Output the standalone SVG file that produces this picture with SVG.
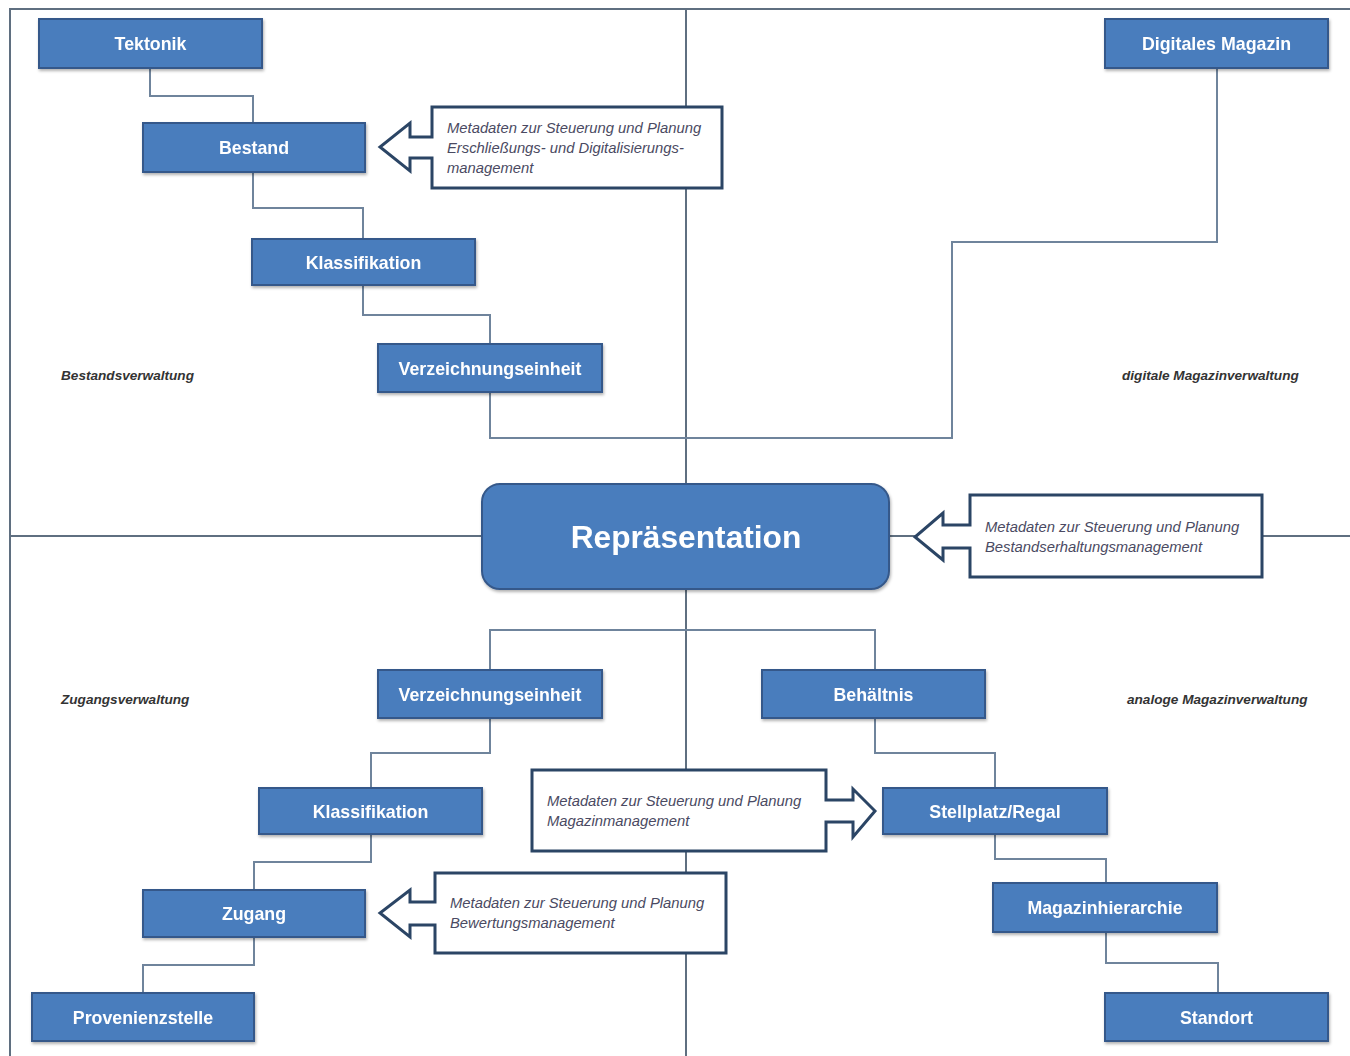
<svg xmlns="http://www.w3.org/2000/svg" width="1350" height="1056" viewBox="0 0 1350 1056">
<style>
.node rect{fill:#4a7dbd;stroke:#36598a;stroke-width:2}
.node text{fill:#ffffff;font-family:"Liberation Sans",Arial,sans-serif;font-weight:bold;font-size:17.8px;text-anchor:middle;dominant-baseline:central}
.conn{fill:none;stroke:#6f849c;stroke-width:2}
.quad{fill:none;stroke:#5f6f80;stroke-width:2}
.callout path{fill:#ffffff;stroke:#2b4565;stroke-width:3;stroke-linejoin:miter}
.callout text{fill:#4a4a62;font-family:"Liberation Sans",Arial,sans-serif;font-style:italic;font-size:14.8px}
.qlabel{fill:#333333;font-family:"Liberation Sans",Arial,sans-serif;font-style:italic;font-weight:bold;font-size:13.6px}
</style>
<defs>
<filter id="sh" x="-10%" y="-10%" width="130%" height="140%">
<feDropShadow dx="1" dy="2" stdDeviation="1.5" flood-color="#000" flood-opacity="0.3"/>
</filter>
</defs>
<rect x="0" y="0" width="1350" height="1056" fill="#ffffff"/>
<g id="frame">
<path class="quad" d="M10,1056 V9 H1350"/>
<path class="quad" d="M686,9 V1056"/>
<path class="quad" d="M10,536 H1350"/>
</g>
<g id="connectors">
<path class="conn" d="M150,68 V96 H253 V123"/>
<path class="conn" d="M253,172 V208 H363 V239"/>
<path class="conn" d="M363,285 V315 H490 V344"/>
<path class="conn" d="M490,392 V438 H952 V242 H1217 V68"/>
<path class="conn" d="M490,670 V630 H875 V670"/>
<path class="conn" d="M490,718 V753 H371 V788"/>
<path class="conn" d="M371,834 V862 H254 V890"/>
<path class="conn" d="M254,937 V965 H143 V993"/>
<path class="conn" d="M875,718 V753 H995 V788"/>
<path class="conn" d="M995,834 V859 H1106 V883"/>
<path class="conn" d="M1106,932 V963 H1218 V993"/>
</g>
<g id="n-tektonik" class="node" filter="url(#sh)"><rect x="39" y="19" width="223" height="49"/><text x="150.5" y="44">Tektonik</text></g>
<g id="n-bestand" class="node" filter="url(#sh)"><rect x="143" y="123" width="222" height="49"/><text x="254" y="148">Bestand</text></g>
<g id="n-klass1" class="node" filter="url(#sh)"><rect x="252" y="239" width="223" height="46"/><text x="363.5" y="263">Klassifikation</text></g>
<g id="n-verz1" class="node" filter="url(#sh)"><rect x="378" y="344" width="224" height="48"/><text x="490" y="369">Verzeichnungseinheit</text></g>
<g id="n-digmag" class="node" filter="url(#sh)"><rect x="1105" y="19" width="223" height="49"/><text x="1216.5" y="44">Digitales Magazin</text></g>
<g id="n-repr" class="node" filter="url(#sh)"><rect x="482" y="484" width="407" height="105" rx="18" ry="18"/><text x="686" y="537" style="font-size:31.7px">Repräsentation</text></g>
<g id="n-verz2" class="node" filter="url(#sh)"><rect x="378" y="670" width="224" height="48"/><text x="490" y="695">Verzeichnungseinheit</text></g>
<g id="n-behaeltnis" class="node" filter="url(#sh)"><rect x="762" y="670" width="223" height="48"/><text x="873.5" y="695">Behältnis</text></g>
<g id="n-klass2" class="node" filter="url(#sh)"><rect x="259" y="788" width="223" height="46"/><text x="370.5" y="812">Klassifikation</text></g>
<g id="n-stellplatz" class="node" filter="url(#sh)"><rect x="883" y="788" width="224" height="46"/><text x="995" y="812">Stellplatz/Regal</text></g>
<g id="n-zugang" class="node" filter="url(#sh)"><rect x="143" y="890" width="222" height="47"/><text x="254" y="914">Zugang</text></g>
<g id="n-maghier" class="node" filter="url(#sh)"><rect x="993" y="883" width="224" height="49"/><text x="1105" y="908">Magazinhierarchie</text></g>
<g id="n-provenienz" class="node" filter="url(#sh)"><rect x="32" y="993" width="222" height="48"/><text x="143" y="1018">Provenienzstelle</text></g>
<g id="n-standort" class="node" filter="url(#sh)"><rect x="1105" y="993" width="223" height="48"/><text x="1216.5" y="1018">Standort</text></g>
<g id="c-erschliessung" class="callout">
<path d="M432,107 H722 V188 H432 V158 H410 V171 L380,147 L410,123 V137 H432 Z"/>
<text x="447" y="133">Metadaten zur Steuerung und Planung</text>
<text x="447" y="153">Erschließungs- und Digitalisierungs-</text>
<text x="447" y="173">management</text>
</g>
<g id="c-bestandserhaltung" class="callout">
<path d="M970,495 H1262 V577 H970 V548 H943 V560 L915,537 L943,513 V525 H970 Z"/>
<text x="985" y="532">Metadaten zur Steuerung und Planung</text>
<text x="985" y="552">Bestandserhaltungsmanagement</text>
</g>
<g id="c-magazin" class="callout">
<path d="M532,770 H826 V800 H853 V789 L875,811 L853,837 V822 H826 V851 H532 Z"/>
<text x="547" y="806">Metadaten zur Steuerung und Planung</text>
<text x="547" y="826">Magazinmanagement</text>
</g>
<g id="c-bewertung" class="callout">
<path d="M435,873 H726 V953 H435 V925 H410 V937 L380,913 L410,890 V902 H435 Z"/>
<text x="450" y="908">Metadaten zur Steuerung und Planung</text>
<text x="450" y="928">Bewertungsmanagement</text>
</g>
<g id="labels">
<text class="qlabel" x="61" y="380">Bestandsverwaltung</text>
<text class="qlabel" x="1122" y="380">digitale Magazinverwaltung</text>
<text class="qlabel" x="61" y="704">Zugangsverwaltung</text>
<text class="qlabel" x="1127" y="704">analoge Magazinverwaltung</text>
</g>
</svg>
